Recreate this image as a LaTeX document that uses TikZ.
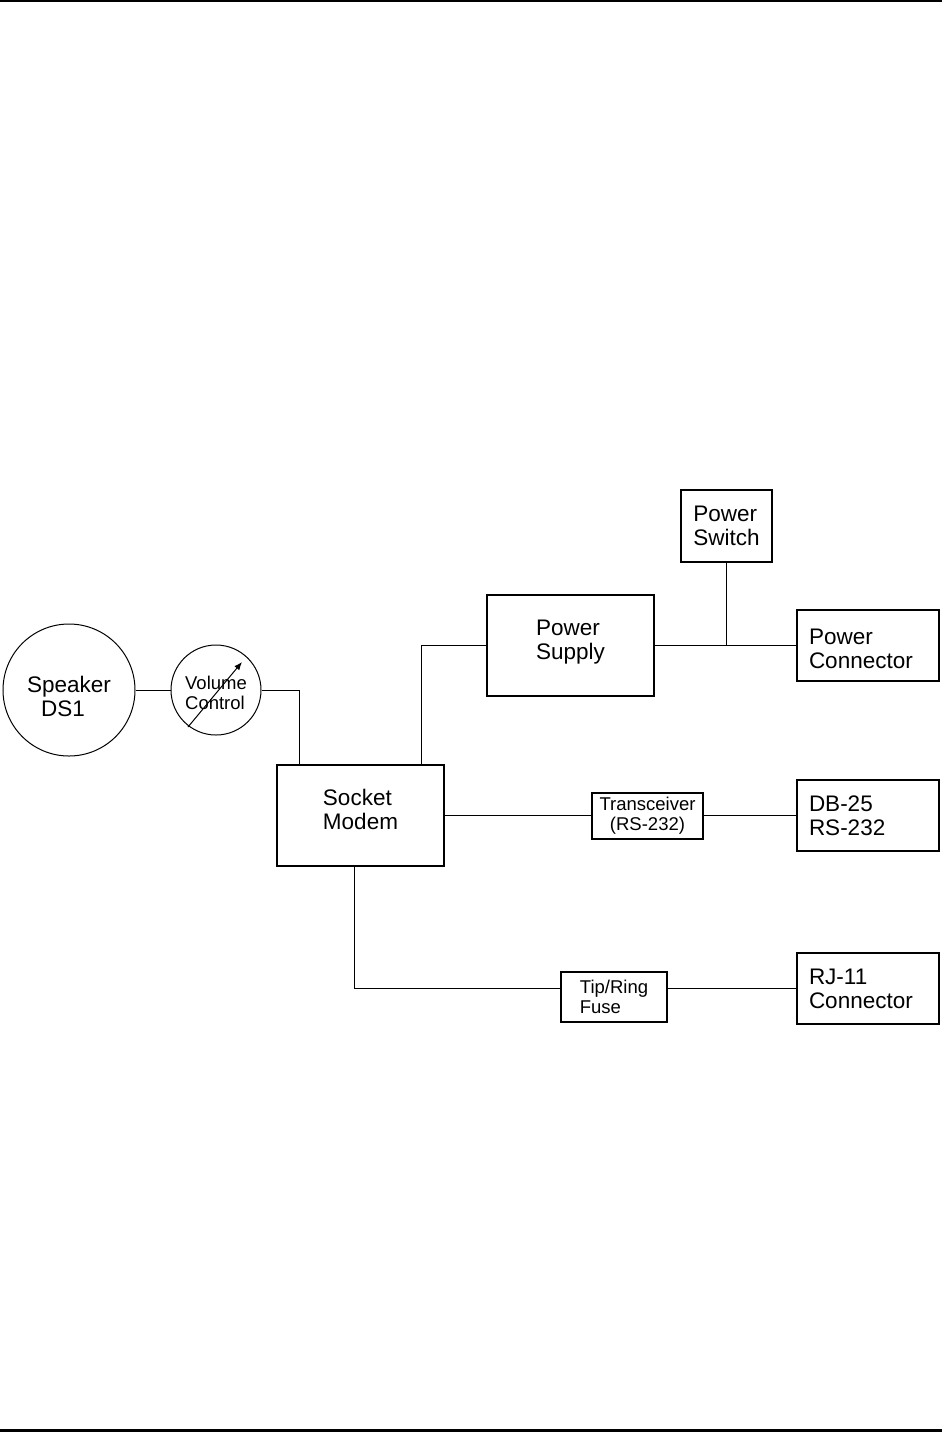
\documentclass[tikz,border=0pt]{standalone}
\usepackage{fontspec}
\setmainfont{Liberation Sans}
\usetikzlibrary{arrows.meta,calc}
\newcommand\tabtext[1]{\begin{tabular}{@{}l@{}}#1\end{tabular}}
\newcommand\shiftedtext[2]{\vphantom{\tabtext{#2}}\raisebox{#1}{\smash{\tabtext{#2}}}}
\begin{document}
\begin{tikzpicture}[x=0.5pt,y=-0.5pt,
  line width=0.5pt,
  bigfont/.style={font=\fontsize{11.25}{12}\selectfont},
  smallfont/.style={font=\fontsize{9.25}{10}\selectfont},
  box/.style={draw, line width=0.6pt, inner sep=0pt, bigfont, align=left},
  rbox/.style={draw, line width=0.6pt, inner xsep=6pt, inner ysep=0pt, text width=59pt,
    minimum height=35.5pt, bigfont, align=left},
  sbox/.style={draw, line width=0.6pt, inner sep=0pt, smallfont, align=left},
  circ/.style={draw, circle, line width=0.5pt, inner sep=0pt, align=left},
  rule/.style={line width=1.2pt}]
\useasboundingbox (0,0) rectangle (942,1432);
% page rules
\draw[rule] (0,1) -- (942,1);
\draw[rule] (0,1430.5) -- (942,1430.5);
% nodes
\node[box, minimum width=83.5pt, minimum height=50.5pt] (modem) at (360.5,815.5) {\shiftedtext{1.5pt}{Socket\\Modem}};
\node[box, minimum width=83.5pt, minimum height=50.5pt] (ps) at (570.5,645.5) {\shiftedtext{1.5pt}{Power\\Supply}};
\node[box, minimum width=45.5pt, minimum height=36pt] (sw) at (726.5,526) {Power\\Switch};
\node[rbox] (pc) at (868,645.5) {\shiftedtext{-3pt}{Power\\Connector}};
\node[rbox] (db) at (868,815.5) {DB-25\\RS-232};
\node[rbox] (rj) at (868,988.5) {RJ-11\\Connector};
\node[sbox, minimum width=55.5pt, minimum height=23pt, align=center] (tx) at (647.5,816) {Transceiver\\(RS-232)};
\node[sbox, minimum width=53pt, minimum height=25pt] (fuse) at (614,997) {Tip/Ring\\Fuse};
\node[circ, bigfont, minimum size=66pt] (spk) at (69,690) {\shiftedtext{-5pt}{Speaker\\\hspace*{7pt}DS1}};
\node[circ, smallfont, minimum size=45pt] (vc) at (216,690) {\shiftedtext{-2.5pt}{Volume\\Control}};
% connectors
\draw (spk.east) -- (vc.west);
\draw (vc.east) -| ([xshift=11.5pt]modem.north west);
\draw ([xshift=72.5pt]modem.north west) |- (ps.west);
\draw (ps.east) -- (pc.west);
\coordinate (j) at (sw.south |- ps.east);
\draw (sw.south) -- (j);
\draw (modem.east) -- (modem.east -| tx.west);
\draw (tx.east |- modem.east) -- (db.west);
\draw ([xshift=39pt]modem.south west) |- (fuse.west |- rj.west);
\draw (fuse.east |- rj.west) -- (rj.west);
\draw[-{Latex[length=4pt,width=3.2pt]}] ([shift={(-28,37)}]vc.center) -- ([shift={(26,-28)}]vc.center);
\end{tikzpicture}
\end{document}
